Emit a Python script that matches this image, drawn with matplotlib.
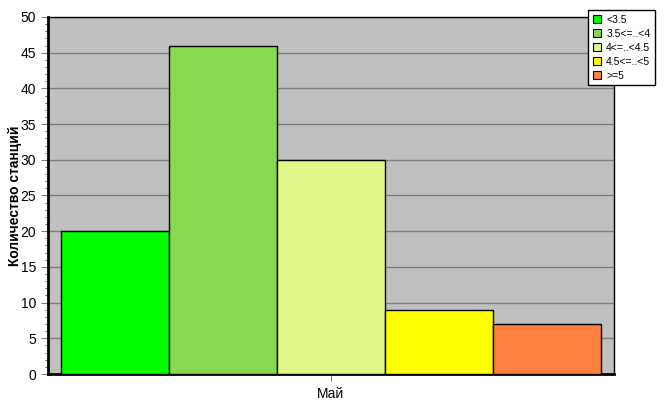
import matplotlib.pyplot as plt
from matplotlib.ticker import MultipleLocator
from matplotlib.patches import Patch

plt.rcParams['font.family'] = ['Liberation Sans', 'DejaVu Sans']

# данные
labels = ["<3.5", "3.5<=..<4", "4<=..<4.5", "4.5<=..<5", ">=5"]
counts = [20, 46, 30, 9, 7]
colors = ["#00FF00", "#88D850", "#E0F888", "#FFFF00", "#FF8040"]
month = "Май"

fig = plt.figure(figsize=(6.67, 4.15), dpi=100)
ax = fig.add_axes([48/667, 41/415, 566/667, 357/415])
ax.set_facecolor("#C0C0C0")

pos = list(range(len(counts)))
ax.bar(pos, counts, width=1.0, color=colors, edgecolor="black", linewidth=1.0, zorder=3)

ax.set_ylim(0, 50)
ax.set_xlim(-0.62, 4.62)
ax.yaxis.set_major_locator(MultipleLocator(5))
ax.yaxis.set_minor_locator(MultipleLocator(1))
ax.yaxis.grid(True, which="major", color="#808080", linewidth=1.0, zorder=1)
ax.set_xticks([2])
ax.set_xticklabels([month])
ax.tick_params(axis="both", which="major", labelsize=10, length=5, width=0.8,
               color="#808080", direction="out")
ax.tick_params(axis="y", which="minor", length=2.5, width=0.8, color="#707070")
ax.tick_params(axis="x", pad=4)
ax.set_ylabel("Количество станций", fontsize=10, fontweight="bold")
ax.yaxis.set_label_coords(-0.046, 0.5)

for s in ["left", "bottom"]:
    ax.spines[s].set_linewidth(2.0)
for s in ["top", "right"]:
    ax.spines[s].set_linewidth(1.0)

handles = [Patch(facecolor=c, edgecolor="black", linewidth=0.8) for c in colors]
leg = fig.legend(handles, labels, loc="upper left", bbox_to_anchor=(588/667, 1 - 10/415),
                 fontsize=7.5, frameon=True, fancybox=False, handlelength=0.8, handleheight=0.8,
                 handletextpad=0.5, borderpad=0.45, labelspacing=0.38, borderaxespad=0)
leg.get_frame().set_edgecolor("black")
leg.get_frame().set_linewidth(1.0)
leg.get_frame().set_alpha(1)

fig.savefig("out.png", dpi=100)
